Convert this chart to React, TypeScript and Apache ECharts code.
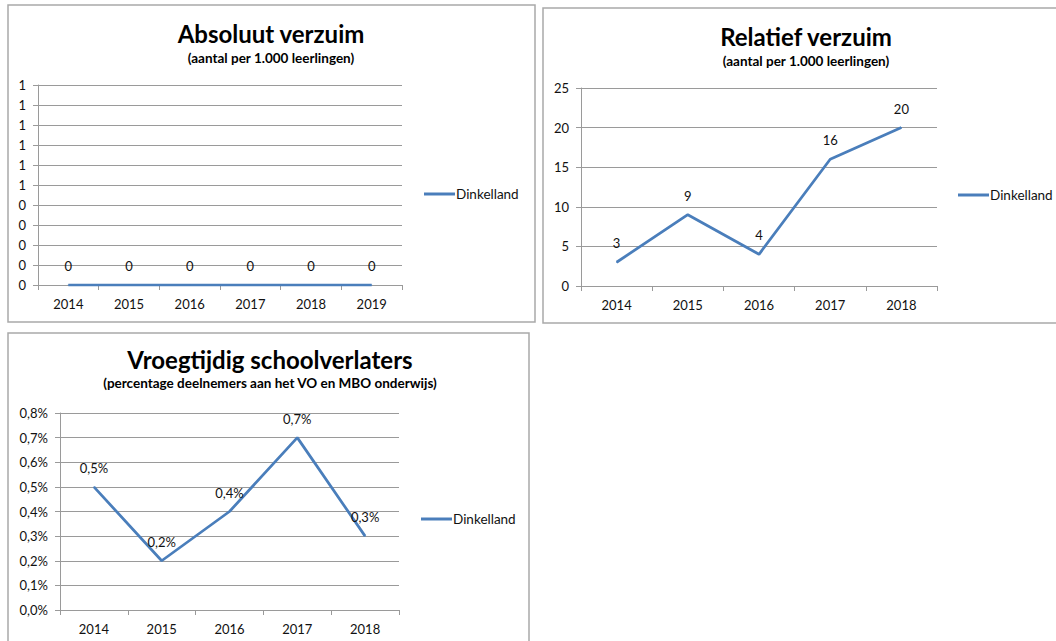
import React, { useEffect, useRef } from 'react';
import * as echarts from 'echarts';

const yearsAbs = ['2014', '2015', '2016', '2017', '2018', '2019'];
const valuesAbs = [0, 0, 0, 0, 0, 0];
const yearsRel = ['2014', '2015', '2016', '2017', '2018'];
const valuesRel = [3, 9, 4, 16, 20];
const yearsVsv = ['2014', '2015', '2016', '2017', '2018'];
const valuesVsv = [0.005, 0.002, 0.004, 0.007, 0.003];
const seriesName = 'Dinkelland';
const titles = ['Absoluut verzuim', 'Relatief verzuim', 'Vroegtijdig schoolverlaters'];
const subtitles = [
  '(aantal per 1.000 leerlingen)',
  '(aantal per 1.000 leerlingen)',
  '(percentage deelnemers aan het VO en MBO onderwijs)',
];

const FONT = 'Lato, "Noto Sans", sans-serif';
const GRID_COLOR = '#9a9a9a';
const LINE_COLOR = '#4a7ebb';
const TEXT_COLOR = '#111';
const BORDER_COLOR = '#a9a9a9';
const TICK_FONT = 13;

const roundInt = (v: number) => String(Math.round(Number(v.toFixed(6))));
const pct = (v: number) => (Math.round(v * 1000) / 10).toFixed(1).replace('.', ',') + '%';

function xAxis(gridIndex: number, data: string[]) {
  return {
    type: 'category',
    gridIndex,
    data,
    boundaryGap: true,
    axisLine: { show: true, lineStyle: { color: GRID_COLOR, width: 1 } },
    axisTick: { show: true, length: 5, lineStyle: { color: GRID_COLOR } },
    axisLabel: { color: TEXT_COLOR, fontFamily: FONT, fontSize: TICK_FONT, margin: 12 },
    splitLine: { show: false },
  };
}

function yAxis(gridIndex: number, max: number, interval: number, formatter: (v: number) => string) {
  return {
    type: 'value',
    gridIndex,
    min: 0,
    max,
    interval,
    axisLine: { show: true, lineStyle: { color: GRID_COLOR, width: 1 } },
    axisTick: { show: true, length: 5, lineStyle: { color: GRID_COLOR } },
    axisLabel: { color: TEXT_COLOR, fontFamily: FONT, fontSize: TICK_FONT, margin: 12, formatter },
    splitLine: { show: true, lineStyle: { color: GRID_COLOR, width: 1 } },
  };
}

function lineSeries(index: number, data: number[], formatter: (v: number) => string) {
  return {
    type: 'line',
    name: seriesName,
    xAxisIndex: index,
    yAxisIndex: index,
    data,
    symbol: 'circle',
    symbolSize: 1,
    lineStyle: { color: LINE_COLOR, width: 2.75 },
    itemStyle: { color: LINE_COLOR },
    label: {
      show: true,
      position: 'top',
      distance: 12,
      color: TEXT_COLOR,
      fontFamily: FONT,
      fontSize: TICK_FONT,
      formatter: (p: any) => formatter(p.value),
    },
  };
}

function legend(left: number, top: number) {
  return {
    data: [{ name: seriesName, icon: 'rect' }],
    left,
    top,
    padding: 0,
    itemWidth: 31,
    itemHeight: 3,
    selectedMode: false,
    textStyle: { fontFamily: FONT, fontSize: 13.5, color: TEXT_COLOR, padding: [0, 0, 0, -4] },
  };
}

function titleText(text: string, x: number, y: number, size: number) {
  return {
    type: 'text',
    x,
    y,
    silent: true,
    style: {
      text,
      fontFamily: FONT,
      fontWeight: 'bold',
      fontSize: size,
      fill: '#000',
      align: 'center',
      verticalAlign: 'middle',
    },
  };
}

function panel(x: number, y: number, w: number, h: number) {
  return {
    type: 'rect',
    silent: true,
    shape: { x, y, width: w, height: h },
    style: { fill: 'none', stroke: BORDER_COLOR, lineWidth: 1.5 },
  };
}

export default function App() {
  const ref = useRef<HTMLDivElement>(null);
  useEffect(() => {
    if (!ref.current) return;
    const chart = echarts.init(ref.current, undefined, { renderer: 'svg' });
    chart.setOption({
      animation: false,
      backgroundColor: '#fff',
      grid: [
        { left: 38, top: 85, width: 364, height: 200 },
        { left: 581, top: 88, width: 356, height: 198 },
        { left: 60, top: 413, width: 339, height: 197 },
      ],
      xAxis: [xAxis(0, yearsAbs), xAxis(1, yearsRel), xAxis(2, yearsVsv)],
      yAxis: [
        yAxis(0, 1, 0.1, roundInt),
        yAxis(1, 25, 5, roundInt),
        yAxis(2, 0.008, 0.001, pct),
      ],
      legend: [legend(424, 187), legend(958, 188), legend(421, 512)],
      series: [
        lineSeries(0, valuesAbs, roundInt),
        lineSeries(1, valuesRel, roundInt),
        lineSeries(2, valuesVsv, pct),
      ],
      graphic: [
        panel(8, 5, 527, 317),
        panel(543, 8, 530, 315),
        panel(8, 333, 521, 330),
        titleText(titles[0], 271, 33, 24),
        titleText(subtitles[0], 271, 58, 13.5),
        titleText(titles[1], 806, 36, 24),
        titleText(subtitles[1], 806, 61, 13.5),
        titleText(titles[2], 270, 359, 24),
        titleText(subtitles[2], 270, 383, 13.5),
      ],
    });
    return () => chart.dispose();
  }, []);
  return (
    <div
      ref={ref}
      style={{ position: 'absolute', left: 0, top: 0, width: 1056, height: 641, background: '#fff' }}
    />
  );
}
